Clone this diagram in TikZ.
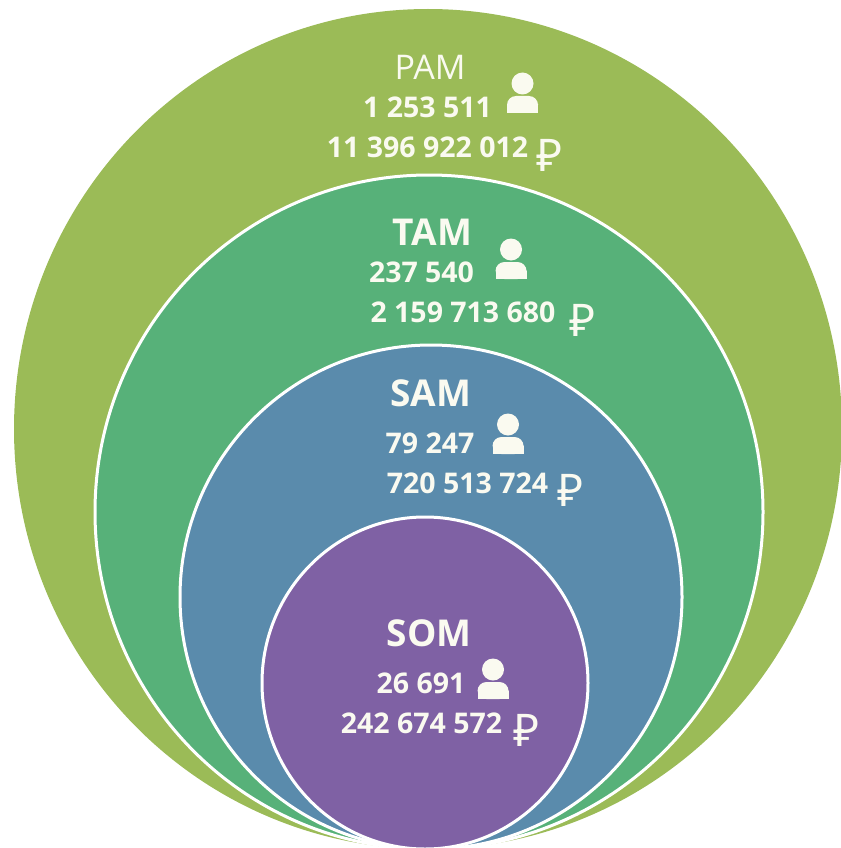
\documentclass[tikz,border=0pt]{standalone}
\usepackage{fontspec}
\setmainfont{Open Sans}
\newfontfamily\rubfont{Noto Sans}
\usepackage{tikz}
\definecolor{pamc}{RGB}{155,187,87}
\definecolor{tamc}{RGB}{87,177,121}
\definecolor{samc}{RGB}{90,139,172}
\definecolor{somc}{RGB}{127,97,164}
\definecolor{txt}{RGB}{250,250,240}
\tikzstyle{ring}=[draw=white,line width=3pt]
\tikzstyle{title}=[text=txt,inner sep=0mm,font=\bfseries\fontsize{37}{37}\selectfont]
\tikzstyle{num}=[text=txt,inner sep=0mm,font=\bfseries\fontsize{28.5}{28.5}\selectfont]
\tikzstyle{rub}=[text=txt,inner sep=0mm,font=\rubfont\fontsize{45}{45}\selectfont]
\tikzstyle{icon}=[fill=txt]
% person sign, #1 = top of the head
\newcommand \usr[1]{
  \begin{scope}[shift={#1}]
    \fill[icon] (0,11.5) circle (11pt);
    \fill[icon,rounded corners=9pt] (-15.5,24) rectangle (15.5,41);
    \fill[icon] (-15.5,33) rectangle (15.5,41);
  \end{scope}}

\begin{document}
\begin{tikzpicture}[x=1pt,y=-1pt]
      \useasboundingbox (0,0) rectangle (840,848);
      \fill[pamc] (428,429) ellipse [x radius=414pt, y radius=420pt];
      \filldraw[ring,fill=tamc] (429,512) ellipse [x radius=334pt, y radius=337pt];
      \filldraw[ring,fill=samc] (431,597) ellipse [x radius=251pt, y radius=252pt];
      \filldraw[ring,fill=somc] (425,683) ellipse [x radius=163pt, y radius=166pt];
      % PAM
      \node[title,font=\fontsize{34}{34}\selectfont] at (430,67) (pam) {PAM};
      \node[num] at (427.5,107) (pamn) {1 253 511};
      \node[num] at (427.5,147) (pamr) {11 396 922 012};
      \node[rub] at (550,155) (pamrub) {₽};
      \usr{(522.5,72)}
      % TAM
      \node[title] at (432.5,232) (tam) {TAM};
      \node[num] at (421.5,272) (tamn) {237 540};
      \node[num] at (463,312) (tamr) {2 159 713 680};
      \node[rub] at (583,320) (tamrub) {₽};
      \usr{(511,238)}
      % SAM
      \node[title] at (431,393) (sam) {SAM};
      \node[num] at (430,443) (samn) {79 247};
      \node[num] at (467.5,483) (samr) {720 513 724};
      \node[rub] at (570.5,490) (samrub) {₽};
      \usr{(508,413)}
      % SOM
      \node[title] at (429,633) (som) {SOM};
      \node[num] at (421,683) (somn) {26 691};
      \node[num] at (421.5,723) (somr) {242 674 572};
      \node[rub] at (526.5,730) (somrub) {₽};
      \usr{(493,658)}
    \end{tikzpicture}
\end{document}
